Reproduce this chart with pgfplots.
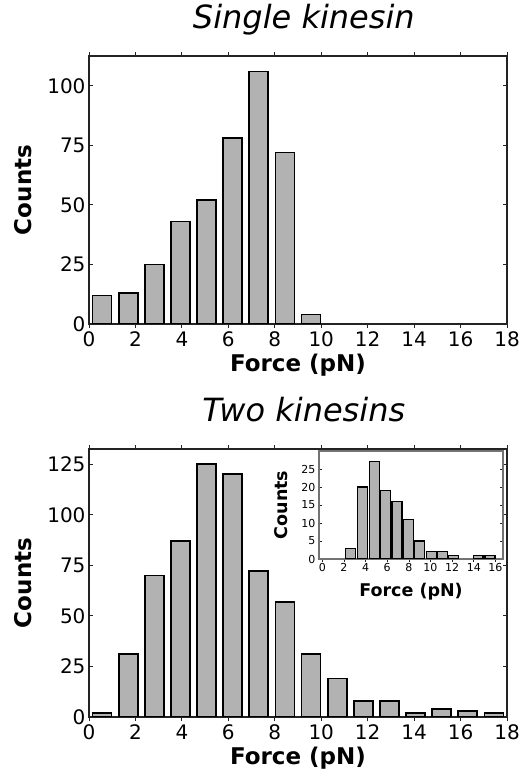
\documentclass[border=0pt]{standalone}
\usepackage{pgfplots}
\pgfplotsset{compat=1.18}
\usepackage{fontspec}
\setmainfont{DejaVu Sans}
\definecolor{barfill}{RGB}{178,178,178}
\definecolor{frame}{RGB}{35,35,35}

\pgfplotsset{
  histo/.style={
    scale only axis,
    anchor=south west,
    width=418pt, height=268pt,
    xmin=0, xmax=18, ymin=0,
    xtick={0,2,...,18},
    tick align=inside,
    major tick length=4pt,
    tick style={frame, line width=0.8pt},
    axis line style={frame, line width=1.3pt},
    /pgf/number format/assume math mode=true,
    tick label style={font=\fontsize{20}{22}\selectfont},
    xlabel={Force (pN)},
    ylabel={Counts},
    label style={font=\fontsize{23}{26}\selectfont\bfseries},
    xlabel style={at={(axis description cs:0.5,-0.177)}, anchor=base},
    ylabel style={at={(axis description cs:-0.158,0.5)}, anchor=center},
    title style={at={(axis description cs:0.514,1.082)}, anchor=base,
      font=\fontsize{32}{36}\selectfont\itshape},
    ybar, bar width=0.82,
  },
}

\begin{document}
\begin{tikzpicture}
  \path[use as bounding box] (0,0) rectangle (529pt,775pt);

  % single kinesin
  \begin{axis}[histo, at={(89pt,451pt)}, ymax=112.5,
      ytick={0,25,50,75,100}, title={Single kinesin}]
    \addplot[fill=barfill, draw=black, line width=1.8pt] coordinates {
      (0.5625,12) (1.6875,13) (2.8125,25) (3.9375,43) (5.0625,52)
      (6.1875,78) (7.3125,106) (8.4375,72) (9.5625,4)
    };
  \end{axis}

  % two kinesins
  \begin{axis}[histo, at={(89pt,58pt)}, ymax=132.5,
      ytick={0,25,50,75,100,125}, title={Two kinesins}]
    \addplot[fill=barfill, draw=black, line width=1.8pt] coordinates {
      (0.5625,2) (1.6875,31) (2.8125,70) (3.9375,87) (5.0625,125)
      (6.1875,120) (7.3125,72) (8.4375,57) (9.5625,31) (10.6875,19)
      (11.8125,8) (12.9375,8) (14.0625,2) (15.1875,4) (16.3125,3)
      (17.4375,2)
    };
  \end{axis}

  % inset
  \begin{axis}[
      scale only axis, anchor=south west, at={(319pt,216pt)},
      width=184pt, height=108pt,
      xmin=-0.3, xmax=16.7, ymin=0, ymax=30,
      xtick={0,2,...,16}, ytick={0,5,...,25},
      axis background/.style={fill=white},
      tick align=inside, major tick length=3pt,
      tick style={frame, line width=0.6pt},
      axis line style={black!55, line width=1.6pt},
      /pgf/number format/assume math mode=true,
      tick label style={font=\fontsize{11}{12}\selectfont},
      xticklabel style={inner sep=1.5pt},
      xlabel={Force (pN)}, ylabel={Counts},
      label style={font=\fontsize{17.5}{20}\selectfont\bfseries},
      xlabel style={at={(axis description cs:0.5,-0.35)}, anchor=base},
      ylabel style={at={(axis description cs:-0.208,0.5)}, anchor=center},
      ybar, bar width=0.92,
    ]
    \addplot[fill=barfill, draw=black, line width=1.2pt] coordinates {
      (2.6,3) (3.7,20) (4.8,27) (5.85,19) (6.9,16) (7.95,11) (9.0,5)
      (10.1,2) (11.1,2) (12.1,1) (14.4,1) (15.5,1)
    };
  \end{axis}
\end{tikzpicture}
\end{document}
